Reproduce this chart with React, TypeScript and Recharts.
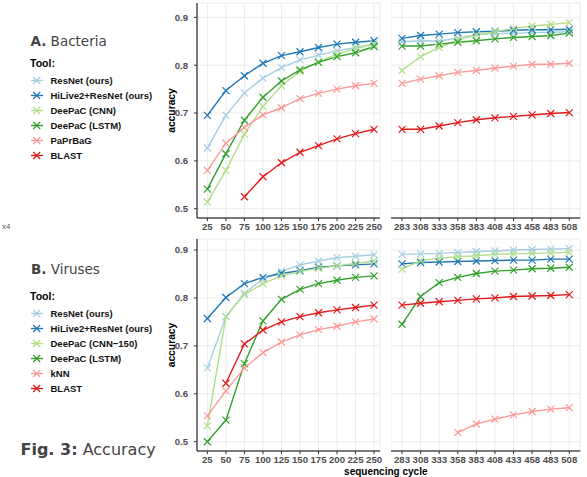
import { LineChart, Line, XAxis, YAxis, CartesianGrid } from 'recharts'

const cyclesLeft = [25, 50, 75, 100, 125, 150, 175, 200, 225, 250]
const cyclesRight = [283, 308, 333, 358, 383, 408, 433, 458, 483, 508]
const accuracyTicks = [0.5, 0.6, 0.7, 0.8, 0.9]

const bacteriaTools = ['ResNet (ours)', 'HiLive2+ResNet (ours)', 'DeePaC (CNN)', 'DeePaC (LSTM)', 'PaPrBaG', 'BLAST']
const virusTools = ['ResNet (ours)', 'HiLive2+ResNet (ours)', 'DeePaC (CNN\u2212150)', 'DeePaC (LSTM)', 'kNN', 'BLAST']
const toolColors = ['#a6cee3', '#1f78b4', '#b2df8a', '#33a02c', '#fb9a99', '#e31a1c']

// bacteria: 10 values for cycles 25..250, then 10 for 283..508
const bactResNet = [0.627, 0.695, 0.742, 0.773, 0.795, 0.811, 0.821, 0.83, 0.837, 0.844,
  0.849, 0.851, 0.85, 0.857, 0.864, 0.866, 0.867, 0.868, 0.869, 0.87]
const bactHiLive = [0.695, 0.747, 0.778, 0.804, 0.82, 0.828, 0.837, 0.844, 0.848, 0.851,
  0.856, 0.862, 0.865, 0.868, 0.87, 0.871, 0.873, 0.874, 0.874, 0.875]
const bactCnn = [0.514, 0.58, 0.656, 0.714, 0.757, 0.787, 0.807, 0.823, 0.835, 0.844,
  0.789, 0.818, 0.837, 0.853, 0.863, 0.87, 0.877, 0.882, 0.885, 0.889]
const bactLstm = [0.541, 0.615, 0.685, 0.733, 0.767, 0.79, 0.806, 0.818, 0.826, 0.839,
  0.84, 0.84, 0.844, 0.848, 0.851, 0.855, 0.858, 0.86, 0.862, 0.867]
const bactPaprbag = [0.58, 0.637, 0.67, 0.696, 0.711, 0.73, 0.741, 0.75, 0.757, 0.762,
  0.762, 0.771, 0.778, 0.785, 0.789, 0.794, 0.798, 0.802, 0.802, 0.804]
const bactBlast = [null, null, 0.525, 0.567, 0.596, 0.618, 0.632, 0.646, 0.657, 0.666,
  0.666, 0.666, 0.673, 0.68, 0.686, 0.69, 0.693, 0.696, 0.699, 0.701]

// viruses
const virResNet = [0.654, 0.761, 0.81, 0.839, 0.856, 0.869, 0.877, 0.884, 0.887, 0.89,
  0.891, 0.892, 0.893, 0.895, 0.897, 0.898, 0.9, 0.901, 0.902, 0.903]
const virHiLive = [0.757, 0.801, 0.83, 0.843, 0.851, 0.857, 0.864, 0.867, 0.869, 0.871,
  0.871, 0.874, 0.875, 0.876, 0.877, 0.878, 0.879, 0.879, 0.881, 0.881]
const virCnn = [0.533, 0.761, 0.807, 0.83, 0.846, 0.855, 0.862, 0.867, 0.872, 0.877,
  0.86, 0.878, 0.883, 0.886, 0.888, 0.891, 0.892, 0.893, 0.894, 0.895]
const virLstm = [0.5, 0.545, 0.663, 0.752, 0.797, 0.818, 0.83, 0.837, 0.843, 0.846,
  0.745, 0.803, 0.832, 0.843, 0.851, 0.856, 0.858, 0.861, 0.862, 0.864]
const virKnn = [0.554, 0.606, 0.654, 0.686, 0.708, 0.723, 0.734, 0.741, 0.75, 0.756,
  null, null, null, 0.519, 0.537, 0.547, 0.556, 0.563, 0.568, 0.571]
const virBlast = [null, 0.622, 0.704, 0.733, 0.75, 0.761, 0.769, 0.775, 0.78, 0.785,
  0.785, 0.789, 0.792, 0.795, 0.798, 0.8, 0.803, 0.804, 0.805, 0.807]

const bacteriaSeries = [bactResNet, bactHiLive, bactCnn, bactLstm, bactPaprbag, bactBlast]
const virusSeries = [virResNet, virHiLive, virCnn, virLstm, virKnn, virBlast]

const axisFont = "'Liberation Sans', Arial, sans-serif"
const titleFont = "'DejaVu Sans', sans-serif"
const tickStyle = { fill: '#4d4d4d', fontSize: 9.6, fontWeight: 'bold', fontFamily: axisFont }

const crossDot = (color: string) => (props: any) => {
  const { cx, cy, value, index } = props
  if (cx == null || cy == null || value == null) return <g key={index} />
  const s = 3.5
  return (
    <path
      key={index}
      d={`M${cx - s},${cy - s}L${cx + s},${cy + s}M${cx - s},${cy + s}L${cx + s},${cy - s}`}
      stroke={color}
      strokeWidth={1.2}
      fill="none"
    />
  )
}

interface PanelProps {
  left: number
  top: number
  width: number
  height: number
  cycles: number[]
  offset: number
  xDomain: [number, number]
  yDomain: [number, number]
  series: (number | null)[][]
  showY: boolean
}

function Panel({ left, top, width, height, cycles, offset, xDomain, yDomain, series, showY }: PanelProps) {
  const data = cycles.map((c, i) => {
    const row: any = { cycle: c }
    series.forEach((s, j) => {
      row['s' + j] = s[offset + i]
    })
    return row
  })
  return (
    <div style={{ position: 'absolute', left, top }}>
      <LineChart width={width + 8} height={height} data={data} margin={{ top: 3, right: 8, bottom: 0, left: 0 }}
        style={{ overflow: 'visible' }}>
        <CartesianGrid stroke="#ebebeb" strokeWidth={1} />
        <XAxis
          type="number"
          dataKey="cycle"
          domain={xDomain}
          ticks={cycles}
          interval={0}
          allowDataOverflow
          height={22}
          tickSize={3}
          tickMargin={2}
          axisLine={{ stroke: '#000', strokeWidth: 1 }}
          tickLine={{ stroke: '#333' }}
          tick={tickStyle}
        />
        <YAxis
          type="number"
          domain={yDomain}
          ticks={accuracyTicks}
          interval={0}
          allowDataOverflow
          hide={!showY}
          width={57}
          tickSize={3}
          tickMargin={6}
          tickFormatter={(v: number) => v.toFixed(1)}
          axisLine={{ stroke: '#000', strokeWidth: 1 }}
          tickLine={{ stroke: '#333' }}
          tick={tickStyle}
        />
        {series.map((_, j) => (
          <Line
            key={j}
            type="linear"
            dataKey={'s' + j}
            stroke={toolColors[j]}
            strokeWidth={1.4}
            dot={crossDot(toolColors[j])}
            activeDot={false}
            isAnimationActive={false}
          />
        ))}
      </LineChart>
    </div>
  )
}

function LegendBlock({ top, tools }: { top: number; tools: string[] }) {
  return (
    <g>
      <text x={30} y={top + 4} fontFamily={axisFont} fontWeight="bold" fontSize={10.5} fill="#000">
        Tool:
      </text>
      {tools.map((t, i) => {
        const cy = top + 17.5 + i * 15
        return (
          <g key={t}>
            <line x1={31} x2={43} y1={cy} y2={cy} stroke={toolColors[i]} strokeWidth={1.4} />
            <path
              d={`M${33.2},${cy - 3.5}L${40.2},${cy + 3.5}M${33.2},${cy + 3.5}L${40.2},${cy - 3.5}`}
              stroke={toolColors[i]}
              strokeWidth={1.2}
            />
            <text x={50.5} y={cy + 3.4} fontFamily={axisFont} fontWeight="bold" fontSize={9.5} fill="#111">
              {t}
            </text>
          </g>
        )
      })}
    </g>
  )
}

export default function App() {
  const topY: [number, number] = [0.4806, 0.93]
  const botY: [number, number] = [0.4806, 0.923]
  return (
    <div style={{ position: 'absolute', left: 0, top: 0, width: 587, height: 477, background: '#fff' }}>
      <Panel left={140} top={0} width={240} height={240} cycles={cyclesLeft} offset={0}
        xDomain={[11, 258]} yDomain={topY} series={bacteriaSeries} showY />
      <Panel left={390.7} top={0} width={189.3} height={240} cycles={cyclesRight} offset={10}
        xDomain={[268.2, 522.8]} yDomain={topY} series={bacteriaSeries} showY={false} />
      <Panel left={140} top={236} width={240} height={237} cycles={cyclesLeft} offset={0}
        xDomain={[11, 258]} yDomain={botY} series={virusSeries} showY />
      <Panel left={390.7} top={236} width={189.3} height={237} cycles={cyclesRight} offset={10}
        xDomain={[268.2, 522.8]} yDomain={botY} series={virusSeries} showY={false} />
      <svg width={587} height={477} style={{ position: 'absolute', left: 0, top: 0, pointerEvents: 'none' }}>
        <text x={2} y={229} fontFamily={axisFont} fontSize={8} fill="#555">x4</text>
        <text x={30.5} y={46} fontFamily={titleFont} fontSize={13.5} fill="#444">
          <tspan fontWeight="bold">A.</tspan> Bacteria
        </text>
        <LegendBlock top={63} tools={bacteriaTools} />
        <text x={31} y={274} fontFamily={titleFont} fontSize={13.5} fill="#444">
          <tspan fontWeight="bold">B.</tspan> Viruses
        </text>
        <LegendBlock top={296} tools={virusTools} />
        <text x={20.5} y={455} fontFamily={titleFont} fontSize={16} fill="#444">
          <tspan fontWeight="bold">Fig. 3:</tspan> Accuracy
        </text>
        <text x={171.7} y={110.5} transform="rotate(-90 171.7 110.5)" textAnchor="middle" dominantBaseline="central"
          fontFamily={axisFont} fontWeight="bold" fontSize={10.3} fill="#000">accuracy</text>
        <text x={171.7} y={345} transform="rotate(-90 171.7 345)" textAnchor="middle" dominantBaseline="central"
          fontFamily={axisFont} fontWeight="bold" fontSize={10.3} fill="#000">accuracy</text>
        <text x={385.8} y={471.7} textAnchor="middle" dominantBaseline="central"
          fontFamily={axisFont} fontWeight="bold" fontSize={10} fill="#000">sequencing cycle</text>
      </svg>
    </div>
  )
}
